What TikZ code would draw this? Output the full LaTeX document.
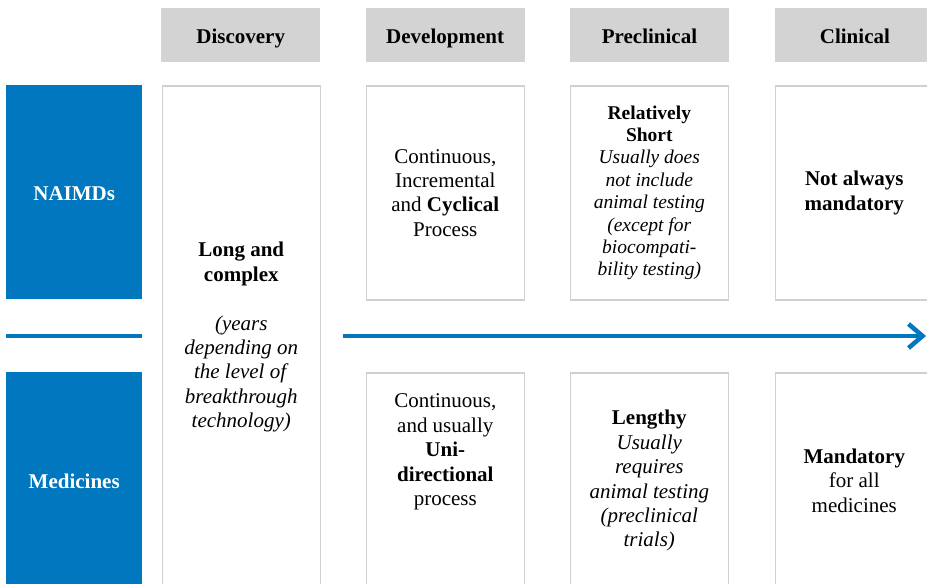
\documentclass[tikz,border=0pt]{standalone}
\usepackage{fontspec}
\setmainfont{Liberation Serif}
\usepackage{tikz}
\usetikzlibrary{arrows.meta}
\usetikzlibrary{positioning}
\definecolor{mainblue}{RGB}{0,119,190}
\definecolor{headgray}{RGB}{211,211,211}
\definecolor{linegray}{RGB}{208,208,208}

\begin{document}
\begin{tikzpicture}[x=1pt,y=-1pt,
			head/.style={fill=headgray,minimum width=159pt,minimum height=54pt,inner sep=0pt,
				text height=16pt,text depth=0pt,
				anchor=north west,font=\bfseries\fontsize{21}{24.4}\selectfont},
			rowbox/.style={fill=mainblue,text=white,minimum width=136pt,inner sep=0pt,
				text height=16pt,text depth=0pt,
				anchor=north west,font=\bfseries\fontsize{21}{24.4}\selectfont},
			cell/.style={draw=linegray,line width=1.6pt,minimum width=158pt,inner sep=0pt,
				anchor=north west,align=center,font=\fontsize{21}{24.4}\selectfont},
			txt/.style={align=center,inner sep=0pt,font=\fontsize{21}{24.4}\selectfont},
			flow/.style={draw=mainblue,line width=4.5pt}
			]
			\useasboundingbox (0,0) rectangle (927,584);
			\clip (0,0) rectangle (927,584);
			
			\node[head] (hdisc) at (161,8) {Discovery};
			\node[head, right=45pt of hdisc] (hdev) {Development};
			\node[head, right=45pt of hdev] (hpre) {Preclinical};
			\node[head, right=46pt of hpre] (hclin) {Clinical};
			
			\node[rowbox, minimum height=214pt] (naimd) at (6,85) {NAIMDs};
			\node[rowbox, minimum height=216pt] (medic) at (6,372) {Medicines};
			
			\node[cell, minimum height=503pt] (disc) at (161.5,85)
				{\textbf{Long and}\\\textbf{complex}\\[24.4pt]\textit{(years}\\\textit{depending on}\\
				\textit{the level of}\\\textit{breakthrough}\\\textit{technology)}};
			
			\node[cell, minimum height=214pt] (devup) at (365.5,85)
				{Continuous,\\Incremental\\and \textbf{Cyclical}\\Process};
			\node[cell, minimum height=214pt, font=\fontsize{19.5}{22.4}\selectfont] (preup) at (569.5,85)
				{\textbf{Relatively}\\\textbf{Short}\\\textit{Usually does}\\\textit{not include}\\
				\textit{animal testing}\\\textit{(except for}\\\textit{biocompati-}\\\textit{bility testing)}};
			\node[cell, minimum height=214pt] (clinup) at (774.5,85)
				{\textbf{Not always}\\\textbf{mandatory}};
			
			\node[cell, minimum height=216pt] (devlow) at (365.5,372) {};
			\node[txt] (devlowtxt) at ([yshift=-80pt]devlow.north)
				{Continuous,\\and usually\\\textbf{Uni-}\\\textbf{directional}\\process};
			\node[cell, minimum height=216pt] (prelow) at (569.5,372)
				{\textbf{Lengthy}\\\textit{Usually}\\\textit{requires}\\\textit{animal testing}\\
				\textit{(preclinical}\\\textit{trials)}};
			\node[cell, minimum height=216pt] (clinlow) at (774.5,372)
				{\textbf{Mandatory}\\for all\\medicines};
			
			% time line
			\coordinate (lstart) at (6,336);
			\coordinate (lend) at (142,336);
			\coordinate (astart) at (343,336);
			\coordinate (aend) at (926,336);
			\draw[flow] (lstart) -- (lend);
			\draw[flow,-{Straight Barb[length=14pt,width=24pt]}] (astart) -- (aend);
		\end{tikzpicture}
\end{document}
